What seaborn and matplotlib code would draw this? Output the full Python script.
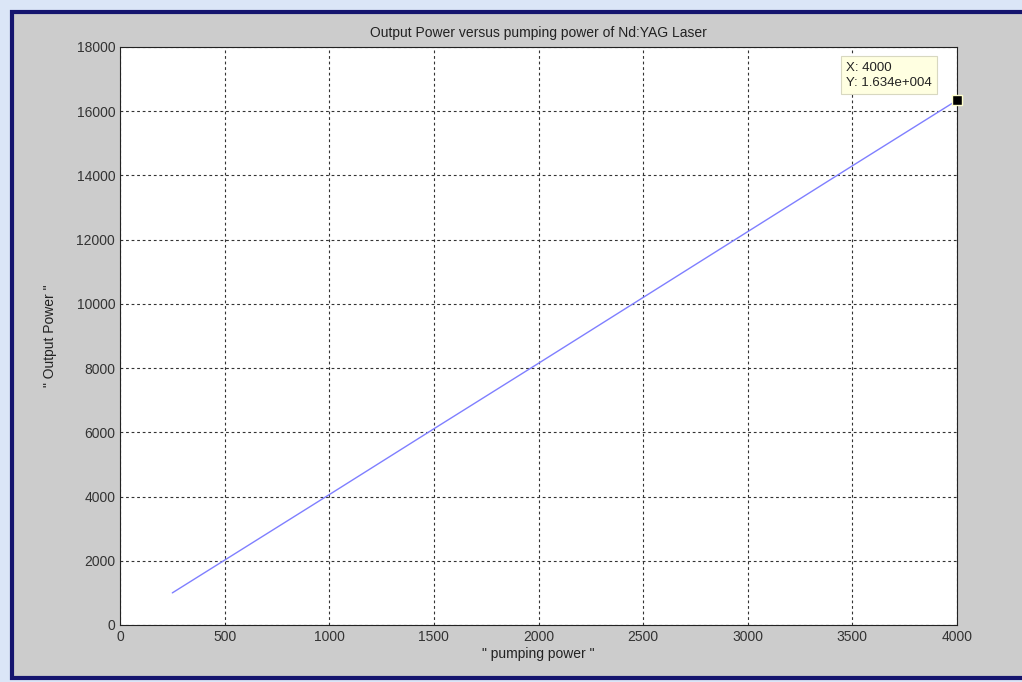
import numpy as np
import pandas as pd
import matplotlib
matplotlib.use('Agg')
import matplotlib.pyplot as plt
import seaborn as sb
from matplotlib.patches import Rectangle

# values
pump = [250, 500, 1000, 1500, 2000, 2500, 3000, 3500, 4000]
outp = [1000, 2020, 4060, 6110, 8150, 10200, 12250, 14300, 16340]
tip_x = 4000
tip_y = 16340

data = pd.DataFrame({'pumping power': pump, 'Output Power': outp})

sb.set_style('white')
plt.rcParams['font.family'] = ['Liberation Sans', 'DejaVu Sans']

fig = plt.figure(figsize=(10.22, 6.82), dpi=100)
fig.patch.set_facecolor('#cccccc')

# window frame like the screenshot
fig.patches.append(Rectangle((0, 0), 1, 1, transform=fig.transFigure,
                             facecolor='#dbe6f7', edgecolor='none', zorder=-3))
fig.patches.append(Rectangle((12/1022, 4/682), 1.0, 666/682, transform=fig.transFigure,
                             facecolor='#cccccc', edgecolor='#14146e', lw=3, zorder=-2))

ax = fig.add_axes([120/1022, 57/682, 837/1022, 578/682])
ax.set_facecolor('white')
sb.lineplot(data=data, x='pumping power', y='Output Power', ax=ax,
            color='#7f7fff', lw=1)

ax.set_xlim(0, 4000)
ax.set_ylim(0, 18000)
ax.set_xticks(np.arange(0, 4001, 500))
ax.set_yticks(np.arange(0, 18001, 2000))
ax.grid(True, color='#333333', linestyle=(0, (2.5, 2.5)), lw=0.8)
ax.tick_params(direction='in', length=5, labelsize=10, colors='#333333', width=0.8)
for s in ax.spines.values():
    s.set_color('#222222')
    s.set_linewidth(0.8)

ax.set_title('Output Power versus pumping power of Nd:YAG Laser', fontsize=10,
             pad=7, color='#222222')
ax.set_xlabel('" pumping power "', fontsize=10, labelpad=2, color='#222222')
ax.set_ylabel('" Output Power "', fontsize=10, labelpad=14, color='#222222',
              fontstretch='condensed')

# data tip
ax.plot([tip_x], [tip_y], marker='s', color='black', ms=7, mec='#ffffcc',
        clip_on=False, zorder=5)
ax.annotate('X: %d\nY: 1.634e+004' % tip_x, xy=(tip_x, tip_y), xytext=(-80, 8),
            textcoords='offset points', fontsize=9.5, va='bottom', ha='left',
            linespacing=1.4, color='#222222',
            bbox=dict(boxstyle='square,pad=0.4', fc='#ffffe1', ec='#d8d8c0', lw=0.8))

fig.savefig('out.png', dpi=100, facecolor=fig.get_facecolor())
